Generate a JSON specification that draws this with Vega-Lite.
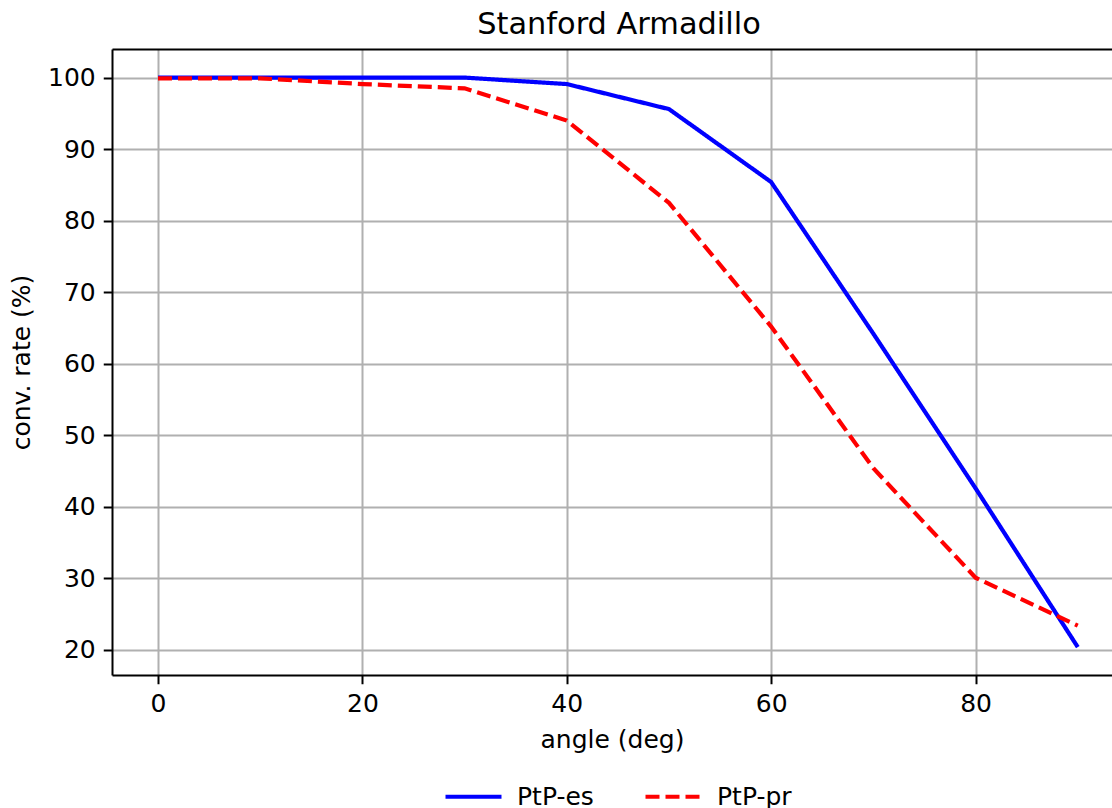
{
  "$schema": "https://vega.github.io/schema/vega-lite/v6.json",
  "width": 1000,
  "height": 626,
  "autosize": {"type": "none"},
  "padding": {"left": 112, "top": 49, "right": 0, "bottom": 133},
  "background": "white",
  "title": {"text": "Stanford Armadillo", "fontSize": 30.4, "fontWeight": "normal", "font": "DejaVu Sans", "color": "black", "offset": -15, "dx": 7, "baseline": "alphabetic"},
  "config": {
    "view": {"stroke": null},
    "font": "DejaVu Sans",
    "axis": {
      "labelFont": "DejaVu Sans", "titleFont": "DejaVu Sans",
      "labelFontSize": 25, "titleFontSize": 25, "titleFontWeight": "normal",
      "labelColor": "black", "titleColor": "black",
      "tickColor": "black", "tickWidth": 2, "tickSize": 8.75,
      "domainColor": "black", "domainWidth": 2,
      "gridColor": "#b0b0b0", "gridWidth": 2
    },
    "legend": {"labelFont": "DejaVu Sans"}
  },
  "data": {"values": [
    {"angle": 0, "rate": 100, "method": "PtP-es"},
    {"angle": 10, "rate": 100, "method": "PtP-es"},
    {"angle": 20, "rate": 100, "method": "PtP-es"},
    {"angle": 30, "rate": 100, "method": "PtP-es"},
    {"angle": 40, "rate": 99.1, "method": "PtP-es"},
    {"angle": 50, "rate": 95.6, "method": "PtP-es"},
    {"angle": 60, "rate": 85.4, "method": "PtP-es"},
    {"angle": 70, "rate": 64.2, "method": "PtP-es"},
    {"angle": 80, "rate": 42.6, "method": "PtP-es"},
    {"angle": 90, "rate": 20.4, "method": "PtP-es"},
    {"angle": 0, "rate": 99.9, "method": "PtP-pr"},
    {"angle": 10, "rate": 99.9, "method": "PtP-pr"},
    {"angle": 20, "rate": 99.1, "method": "PtP-pr"},
    {"angle": 30, "rate": 98.5, "method": "PtP-pr"},
    {"angle": 40, "rate": 94.0, "method": "PtP-pr"},
    {"angle": 50, "rate": 82.5, "method": "PtP-pr"},
    {"angle": 60, "rate": 65.2, "method": "PtP-pr"},
    {"angle": 70, "rate": 45.4, "method": "PtP-pr"},
    {"angle": 80, "rate": 30.1, "method": "PtP-pr"},
    {"angle": 90, "rate": 23.4, "method": "PtP-pr"}
  ]},
  "resolve": {"axis": {"x": "independent"}},
  "layer": [
    {
      "mark": {"type": "line", "strokeWidth": 4.2, "clip": true},
      "encoding": {
        "x": {"field": "angle", "type": "quantitative",
              "scale": {"domain": [-4.5, 93.35], "nice": false, "zero": false},
              "axis": {"orient": "bottom", "values": [0, 20, 40, 60, 80], "title": "angle (deg)", "labelPadding": 8, "titlePadding": 11, "grid": true}},
        "y": {"field": "rate", "type": "quantitative",
              "scale": {"domain": [16.5, 104], "nice": false, "zero": false},
              "axis": {"values": [20, 30, 40, 50, 60, 70, 80, 90, 100], "title": "conv. rate (%)", "labelPadding": 8, "titlePadding": 13, "grid": true}},
        "color": {"field": "method", "type": "nominal",
                  "scale": {"domain": ["PtP-es", "PtP-pr"], "range": ["#0000ff", "#ff0000"]},
                  "legend": {"orient": "none", "legendX": 331, "legendY": 717, "direction": "horizontal", "title": null,
                             "symbolType": "stroke", "symbolSize": 3136, "symbolStrokeWidth": 4.2,
                             "labelFontSize": 25, "labelColor": "black", "labelOffset": 13, "columnPadding": 43, "padding": 0}},
        "strokeDash": {"field": "method", "type": "nominal",
                       "scale": {"domain": ["PtP-es", "PtP-pr"], "range": [[1, 0], [14, 6]]},
                       "legend": {"orient": "none", "legendX": 331, "legendY": 717, "direction": "horizontal", "title": null,
                             "symbolType": "stroke", "symbolSize": 3136, "symbolStrokeWidth": 4.2,
                             "labelFontSize": 25, "labelColor": "black", "labelOffset": 13, "columnPadding": 43, "padding": 0}}
      }
    },
    {
      "mark": {"type": "point", "opacity": 0},
      "encoding": {
        "x": {"field": "angle", "type": "quantitative",
              "axis": {"orient": "top", "labels": false, "ticks": false, "grid": false, "title": null, "domain": true}},
        "y": {"field": "rate", "type": "quantitative"}
      }
    }
  ]
}
